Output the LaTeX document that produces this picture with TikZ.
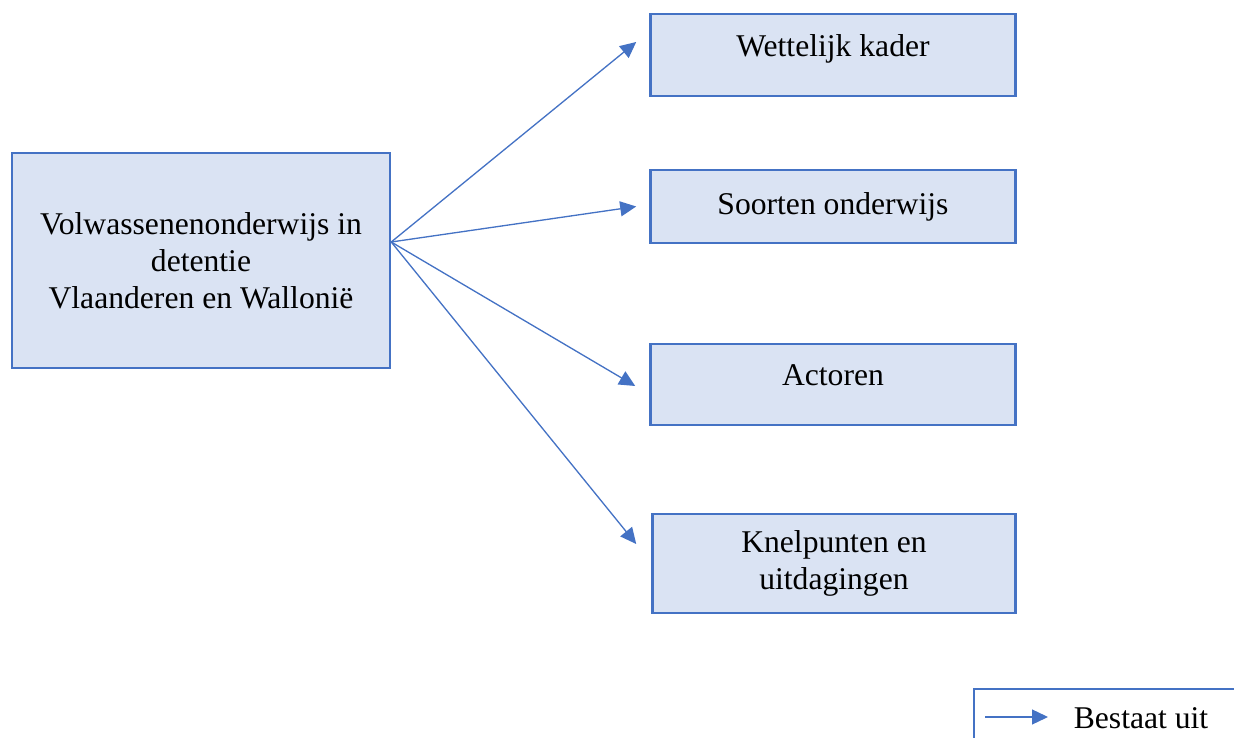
\documentclass[tikz,border=0pt]{standalone}
\usepackage{fontspec}
\setmainfont{Liberation Serif}
\usetikzlibrary{positioning,arrows.meta}

\definecolor{boxfill}{HTML}{DAE3F3}
\definecolor{boxline}{HTML}{4472C4}

\begin{document}
\begin{tikzpicture}[node distance=5.16cm,
    topic/.style={draw=boxline, fill=boxfill, line width=1.4pt, align=center,
                  minimum width=7.3cm, font=\fontsize{18}{21}\selectfont},
    link/.style={draw=boxline, line width=0.75pt, -{Triangle[length=0.32cm,width=0.3cm]}}]
  \clip (-4.02,-9.55) rectangle (20.66,5.21);

  % Define nodes
  \node[topic, minimum width=7.56cm, minimum height=4.3cm]      (main) {Volwassenenonderwijs in\\detentie\\Vlaanderen en Wallonië};
  \node[topic, minimum height=1.64cm, text depth=10.8pt,
        right=of main, yshift=4.11cm]                                (kader)   {Wettelijk kader};
  \node[topic, minimum height=1.46cm, right=of main, yshift=1.08cm]  (soorten) {Soorten onderwijs};
  \node[topic, minimum height=1.62cm, text depth=10.2pt,
        right=of main, yshift=-2.48cm]                               (actoren) {Actoren};
  \node[topic, minimum height=1.98cm, minimum width=7.26cm,
        right=5.2cm of main, yshift=-6.06cm]                         (knel)    {Knelpunten en\\uitdagingen};

  % Arrow ends
  \coordinate (src) at ([yshift=0.37cm]main.east);
  \coordinate (t1)  at ([xshift=-0.26cm, yshift=0.26cm]kader.west);
  \coordinate (t2)  at ([xshift=-0.26cm]soorten.west);
  \coordinate (t3)  at ([xshift=-0.28cm, yshift=-0.03cm]actoren.west);
  \coordinate (t4)  at ([xshift=-0.30cm, yshift=0.39cm]knel.west);

  % Connect the nodes
  \draw[link] (src) -- (t1);
  \draw[link] (src) -- (t2);
  \draw[link] (src) -- (t3);
  \draw[link] (src) -- (t4);

  % Legend
  \node[draw=boxline, line width=1.4pt, minimum width=6cm, minimum height=2cm,
        anchor=north west] (legend) at (15.44,-8.55) {};
  \coordinate (la) at (15.68,-9.13);
  \coordinate (lb) at (16.94,-9.13);
  \draw[link] (la) -- (lb);
  \node[font=\fontsize{18}{21}\selectfont] (uitleg) at (18.8,-9.15) {Bestaat uit};
\end{tikzpicture}
\end{document}
